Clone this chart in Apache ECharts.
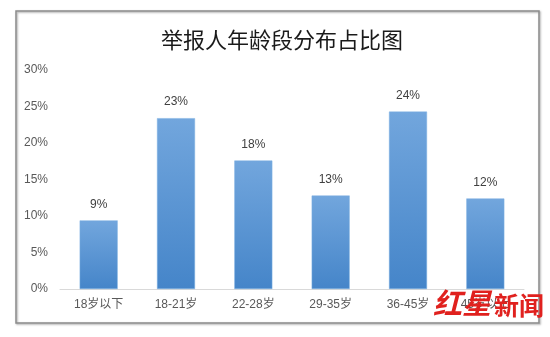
<!DOCTYPE html>
<html>
<head>
<meta charset="utf-8">
<script src="https://cdn.jsdelivr.net/npm/echarts@6/dist/echarts.min.js"></script>
<style>
html,body{margin:0;padding:0;background:#fff;}
#chart{width:550px;height:337px;}
</style>
</head>
<body>
<div id="chart"></div>
<script>
var titleText = '举报人年龄段分布占比图';
var categories = ['18岁以下', '18-21岁', '22-28岁', '29-35岁', '36-45岁', '45岁以上'];
var shares = [9.4, 23.4, 17.6, 12.8, 24.3, 12.4];
var yTicks = [0, 5, 10, 15, 20, 25, 30];
var watermark = ['红星', '新闻'];

var chart = echarts.init(document.getElementById('chart'));
var labelFont = '"Liberation Sans", "Noto Sans CJK SC", sans-serif';
chart.setOption({
  animation: false,
  backgroundColor: '#fff',
  title: {
    text: titleText,
    left: 277, top: 24, textAlign: 'center',
    textStyle: { fontFamily: '"Noto Sans CJK SC", serif', fontSize: 22, fontWeight: 'normal', color: '#1a1a1a' }
  },
  grid: { left: 60, right: 26, top: 70, bottom: 48 },
  xAxis: {
    type: 'category',
    data: categories,
    axisTick: { show: false },
    axisLine: { lineStyle: { color: '#d9d9d9', width: 1 } },
    axisLabel: { color: '#595959', fontSize: 12, margin: 10, fontFamily: labelFont }
  },
  yAxis: {
    type: 'value',
    min: yTicks[0], max: yTicks[yTicks.length - 1], interval: 5,
    axisLine: { show: false },
    axisTick: { show: false },
    splitLine: { show: false },
    axisLabel: { color: '#595959', fontSize: 12, margin: 12, fontFamily: labelFont, formatter: '{value}%' }
  },
  series: [{
    type: 'bar',
    data: shares,
    barWidth: 38,
    itemStyle: {
      color: new echarts.graphic.LinearGradient(0, 0, 0, 1, [
        { offset: 0, color: '#72a6dd' },
        { offset: 1, color: '#4585c9' }
      ]),
      borderColor: '#7fb0e3', borderWidth: 0.5
    },
    label: {
      show: true, position: 'top', distance: 10,
      color: '#404040', fontSize: 12, fontFamily: labelFont,
      formatter: function (p) { return Math.round(p.value) + '%'; }
    }
  }],
  graphic: [
    {
      type: 'rect', z: -10, silent: true,
      shape: { x: 16, y: 11, width: 523, height: 312 },
      style: { fill: 'none', stroke: '#8c8c8c', lineWidth: 1.5, shadowColor: 'rgba(0,0,0,0.35)', shadowBlur: 2, shadowOffsetX: 1, shadowOffsetY: 1 }
    },
    {
      type: 'text', z: 100, left: 433, top: 288,
      style: { text: watermark[0], fill: '#e0211e', font: 'bold italic 29px "Noto Sans CJK SC", sans-serif' }
    },
    {
      type: 'text', z: 100, left: 494, top: 293,
      style: { text: watermark[1], fill: '#e0211e', font: 'bold 25px "Noto Sans CJK SC", sans-serif' }
    }
  ]
});
</script>
</body>
</html>
